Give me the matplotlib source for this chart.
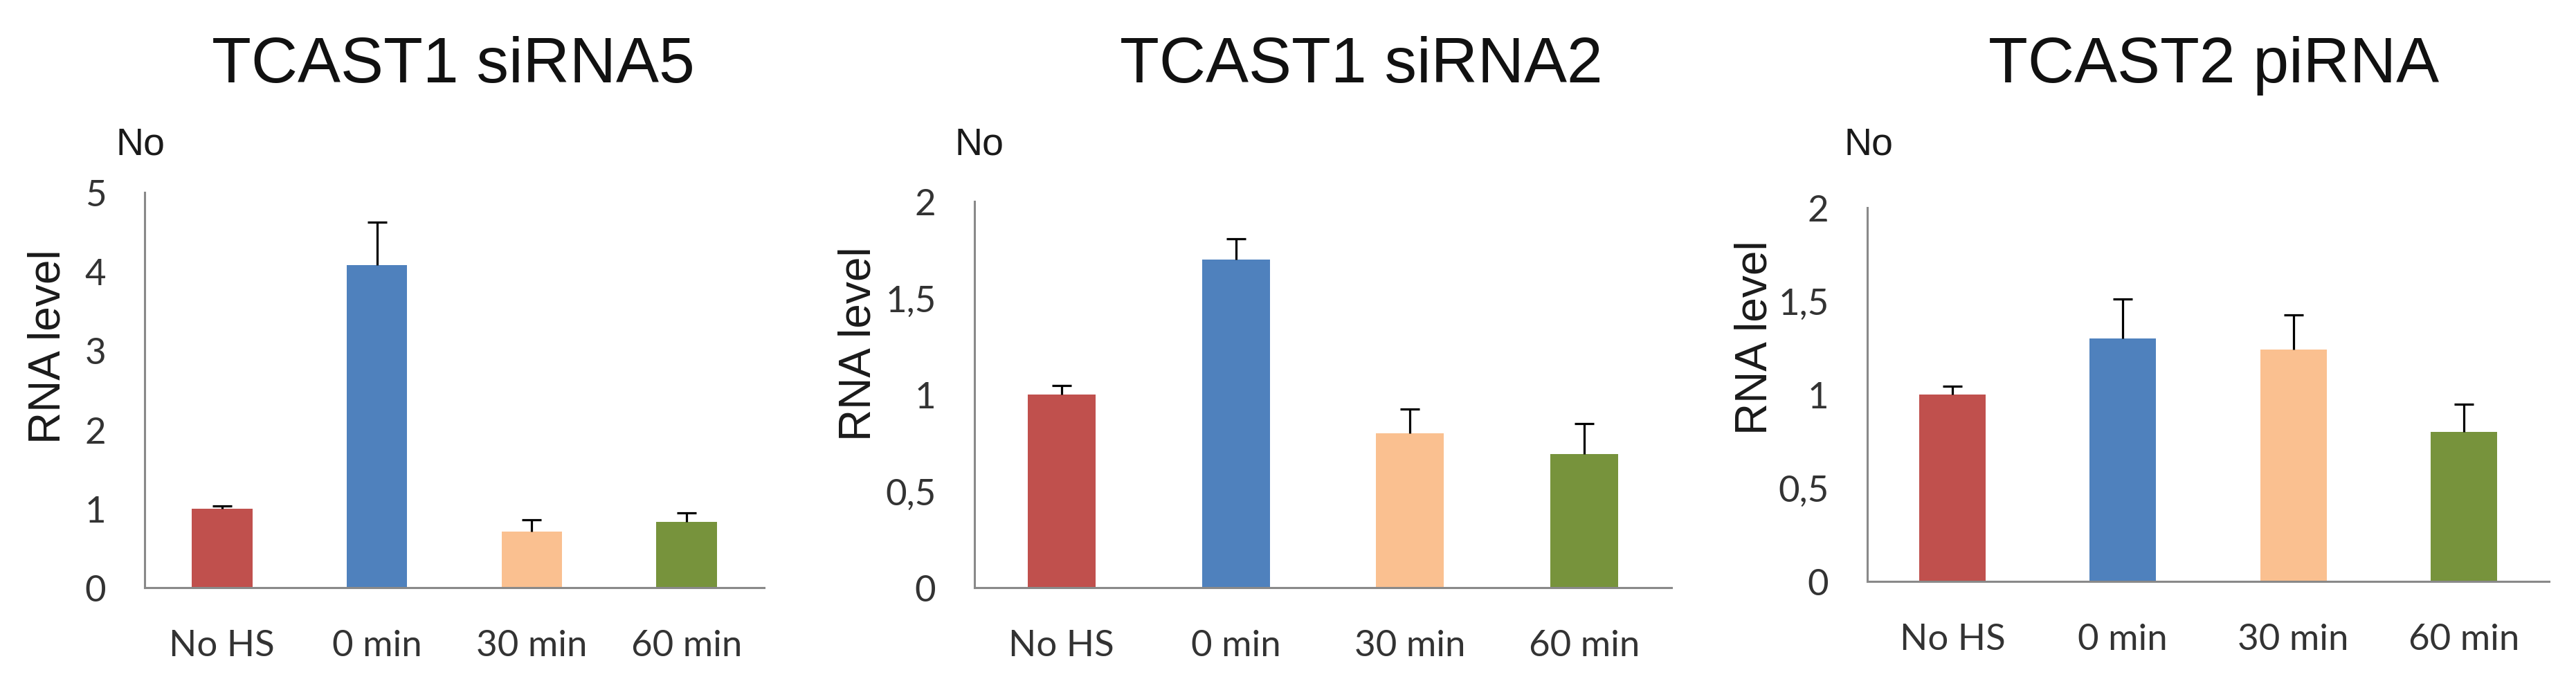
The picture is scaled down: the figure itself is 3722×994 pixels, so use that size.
import matplotlib
matplotlib.use("Agg")
import matplotlib.pyplot as plt
import numpy as np

categories = ["No HS", "0 min", "30 min", "60 min"]
colors = ["#C0504D", "#4F81BD", "#FAC090", "#77933C"]

titles = ["TCAST1 siRNA5", "TCAST1 siRNA2", "TCAST2 piRNA"]

siRNA5_vals = [1.0, 4.08, 0.71, 0.83]
siRNA5_err = [0.03, 0.54, 0.15, 0.12]

siRNA2_vals = [1.0, 1.70, 0.80, 0.69]
siRNA2_err = [0.045, 0.105, 0.125, 0.16]

piRNA_vals = [1.0, 1.30, 1.24, 0.80]
piRNA_err = [0.045, 0.21, 0.185, 0.15]

ytick_vals = [[0, 1, 2, 3, 4, 5], [0, 0.5, 1, 1.5, 2], [0, 0.5, 1, 1.5, 2]]
ytick_labels = [["0", "1", "2", "3", "4", "5"],
                ["0", "0,5", "1", "1,5", "2"],
                ["0", "0,5", "1", "1,5", "2"]]
ymax = [5, 2, 2]

W, H = 3723, 995
fig = plt.figure(figsize=(W / 100, H / 100), dpi=100)

# axes boxes in pixels: left, bottom(y from top), right, top(y from top)
boxes = [(209, 850, 1104, 279), (1408, 850, 2415, 292), (2698, 841, 3683, 301)]
title_x = [655, 1967, 3199]
no_x = [203, 1415, 2700]
ylab_x = [70, 1241, 2536]
ylab_y = [501, 497, 488]

data = [(siRNA5_vals, siRNA5_err), (siRNA2_vals, siRNA2_err), (piRNA_vals, piRNA_err)]

spine_col = "#898989"
tick_col = "#333333"

for i, (box, (vals, errs)) in enumerate(zip(boxes, data)):
    l, b, r, t = box
    ax = fig.add_axes([l / W, (H - b) / H, (r - l) / W, (b - t) / H])
    x = np.arange(len(categories))
    vals = np.array(vals)
    errs = np.array(errs)
    ax.bar(x, vals, width=0.39, color=colors, zorder=2)
    ax.vlines(x, vals, vals + errs, color="black", linewidth=2.3, zorder=3)
    ax.plot(x, vals + errs, linestyle="none", marker="_", markersize=20,
            markeredgewidth=2.3, color="black", zorder=3)
    ax.set_xlim(-0.5, len(categories) - 0.5)
    ax.set_ylim(0, ymax[i])
    ax.set_xticks(x)
    ax.set_xticklabels(categories, fontsize=38, family="Lato", color=tick_col)
    ax.set_yticks(ytick_vals[i])
    ax.set_yticklabels(ytick_labels[i], fontsize=38, family="Lato", color=tick_col)
    ax.tick_params(axis="both", length=0)
    ax.tick_params(axis="y", pad=40)
    ax.tick_params(axis="x", pad=43)
    for s in ["top", "right"]:
        ax.spines[s].set_visible(False)
    for s in ["left", "bottom"]:
        ax.spines[s].set_color(spine_col)
        ax.spines[s].set_linewidth(2.2)

    fig.text(title_x[i] / W, 1 - 95 / H, titles[i], fontsize=67,
             family="Liberation Sans", ha="center", va="center", color="#111111")
    fig.text(no_x[i] / W, 1 - 209 / H, "No", fontsize=40,
             family="Liberation Sans", ha="center", va="center", color="#1a1a1a")
    fig.text(ylab_x[i] / W, 1 - ylab_y[i] / H, "RNA level", fontsize=46,
             family="Liberation Sans", ha="center", va="center", rotation=90,
             color="#1a1a1a")

fig.savefig("out.png", dpi=100, facecolor="white")
